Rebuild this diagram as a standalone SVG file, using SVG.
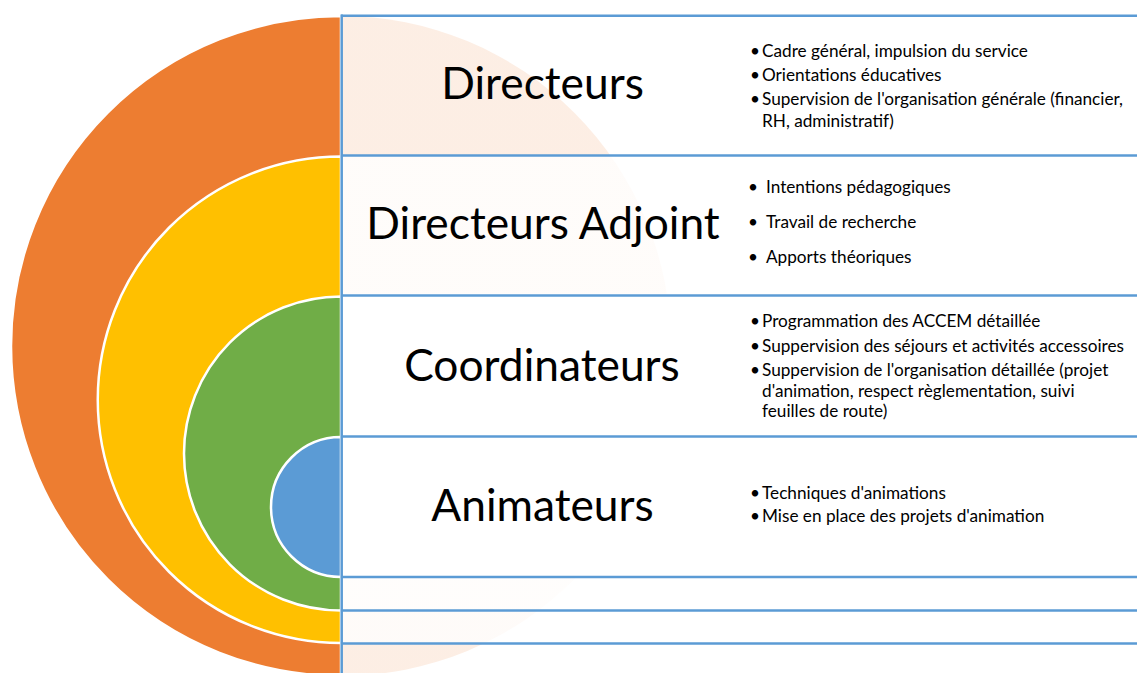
<svg xmlns="http://www.w3.org/2000/svg" width="1137" height="673" viewBox="0 0 1137 673">
<style>
.ring{stroke:#FFFFFF;stroke-width:2.5}
.rule{stroke:#5B9BD5;stroke-width:2.5;fill:none}
.title{font-family:Lato,"Open Sans",sans-serif;font-size:44.3px;fill:#000;text-anchor:middle}
.item{font-family:Lato,"Open Sans",sans-serif;font-size:17.2px;fill:#000}
</style>
<defs>
<linearGradient id="peach" x1="0" y1="0" x2="0" y2="1">
<stop offset="0" stop-color="#ED7D31" stop-opacity="0.13"/>
<stop offset="0.211" stop-color="#ED7D31" stop-opacity="0.13"/>
<stop offset="0.212" stop-color="#ED7D31" stop-opacity="0.025"/>
<stop offset="0.42" stop-color="#ED7D31" stop-opacity="0.025"/>
<stop offset="0.421" stop-color="#ED7D31" stop-opacity="0"/>
<stop offset="0.85" stop-color="#ED7D31" stop-opacity="0"/>
<stop offset="0.851" stop-color="#ED7D31" stop-opacity="0.015"/>
<stop offset="0.9" stop-color="#ED7D31" stop-opacity="0.015"/>
<stop offset="0.901" stop-color="#ED7D31" stop-opacity="0.03"/>
<stop offset="0.95" stop-color="#ED7D31" stop-opacity="0.03"/>
<stop offset="0.951" stop-color="#ED7D31" stop-opacity="0.13"/>
<stop offset="1" stop-color="#ED7D31" stop-opacity="0.13"/>
</linearGradient>
</defs>
<rect width="1137" height="673" fill="#FFFFFF"/>
<path d="M341 16 A330 330 0 0 1 341 676 Z" fill="url(#peach)"/>
<g id="directeurs-ring"><path class="ring" d="M341 16 A330 330 0 0 0 341 676 Z" fill="#ED7D31"/></g>
<g id="adjoint-ring"><path class="ring" d="M341 156.5 A243.25 243.25 0 0 0 341 643 Z" fill="#FFC000"/></g>
<g id="coordinateurs-ring"><path class="ring" d="M341 296.5 A157 157 0 0 0 341 610.5 Z" fill="#70AD47"/></g>
<g id="animateurs-ring"><path class="ring" d="M341 437 A70 70 0 0 0 341 577 Z" fill="#5B9BD5"/></g>
<g id="connectors">
<line class="rule" x1="341" y1="15.7" x2="1137" y2="15.7"/>
<line class="rule" x1="341" y1="155.5" x2="1137" y2="155.5"/>
<line class="rule" x1="341" y1="295.5" x2="1137" y2="295.5"/>
<line class="rule" x1="341" y1="436.5" x2="1137" y2="436.5"/>
<line class="rule" x1="341" y1="577" x2="1137" y2="577"/>
<line class="rule" x1="341" y1="610.5" x2="1137" y2="610.5"/>
<line class="rule" x1="341" y1="643.5" x2="1137" y2="643.5"/>
<line class="rule" x1="341.7" y1="14.5" x2="341.7" y2="673"/>
</g>
<g id="directeurs">
<text class="title" x="542.5" y="99">Directeurs</text>
<text class="item" x="750" y="56.7">•</text><text class="item" x="762" y="56.7">Cadre général, impulsion du service</text>
<text class="item" x="750" y="80.7">•</text><text class="item" x="762" y="80.7">Orientations éducatives</text>
<text class="item" x="750" y="105">•</text><text class="item" x="762" y="105">Supervision de l'organisation générale (financier,</text>
<text class="item" x="762" y="127">RH, administratif)</text>
</g>
<g id="directeurs-adjoint">
<text class="title" x="543" y="239">Directeurs Adjoint</text>
<text class="item" x="748" y="192.7">•</text><text class="item" x="766" y="192.7">Intentions pédagogiques</text>
<text class="item" x="748" y="228">•</text><text class="item" x="766" y="228">Travail de recherche</text>
<text class="item" x="748" y="263">•</text><text class="item" x="766" y="263">Apports théoriques</text>
</g>
<g id="coordinateurs">
<text class="title" x="542" y="380.7">Coordinateurs</text>
<text class="item" x="750" y="327">•</text><text class="item" x="762" y="327">Programmation des ACCEM détaillée</text>
<text class="item" x="750" y="351.7">•</text><text class="item" x="762" y="351.7">Suppervision des séjours et activités accessoires</text>
<text class="item" x="750" y="376">•</text><text class="item" x="762" y="376">Suppervision de l'organisation détaillée (projet</text>
<text class="item" x="762" y="396.7">d'animation, respect règlementation, suivi</text>
<text class="item" x="762" y="416.7">feuilles de route)</text>
</g>
<g id="animateurs">
<text class="title" x="542.5" y="521">Animateurs</text>
<text class="item" x="750" y="499">•</text><text class="item" x="762" y="499">Techniques d'animations</text>
<text class="item" x="750" y="521.7">•</text><text class="item" x="762" y="521.7">Mise en place des projets d'animation</text>
</g>
</svg>
